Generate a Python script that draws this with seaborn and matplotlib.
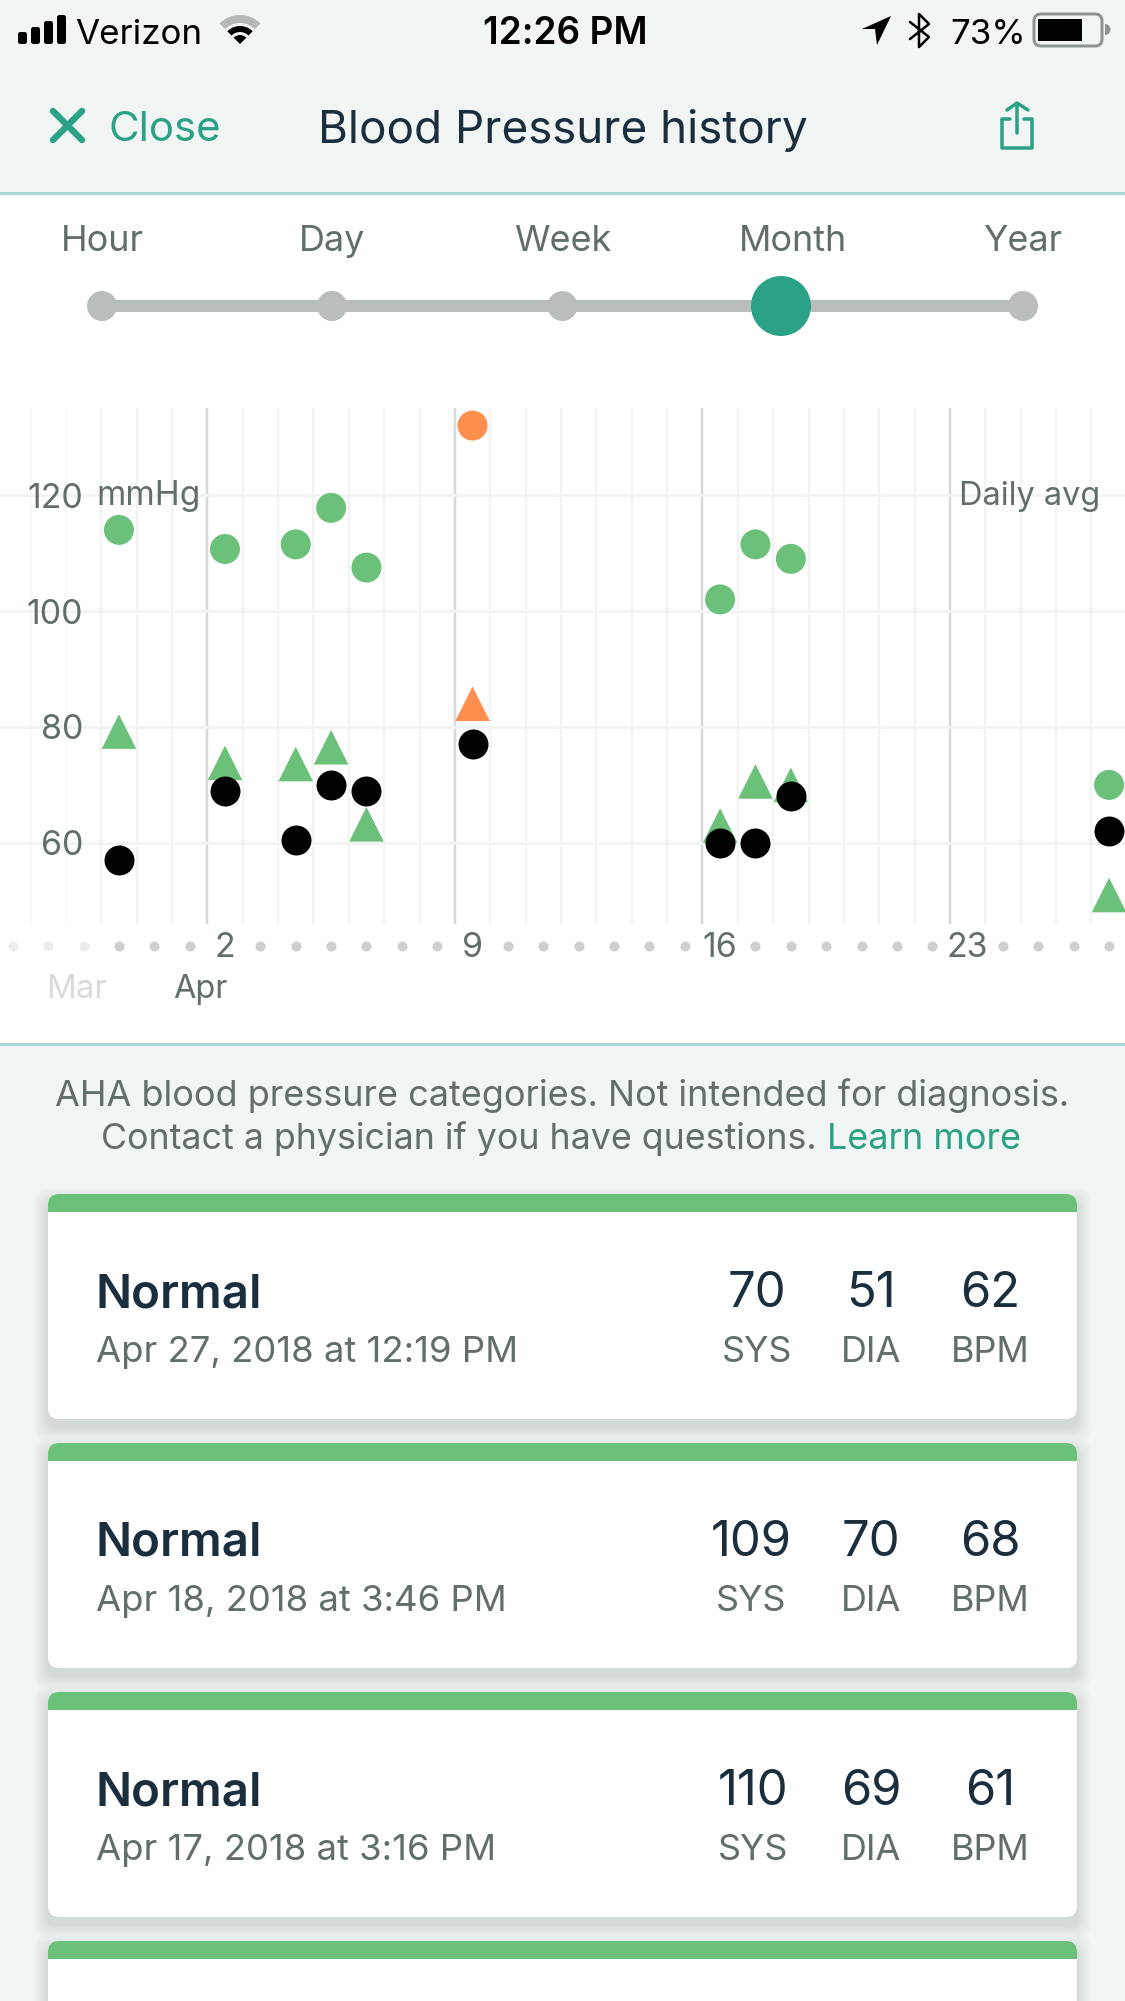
import numpy as np
import pandas as pd
import seaborn as sns
import matplotlib.pyplot as plt
from matplotlib.patches import FancyBboxPatch, Rectangle, Circle, Wedge, Polygon

# readings, one per day that has a measurement (day numbers run through April)
days = [-1, 2, 4, 5, 6, 9, 16, 17, 18, 27]
systolic = [114, 110.7, 111.5, 117.8, 107.5, 132, 102, 111.5, 109, 70]
diastolic = [79.2, 73.8, 73.6, 76.5, 63.2, 84, 63, 70.6, 70, 51]
pulse = [57, 69, 60.5, 70, 69, 77, 60, 60, 68, 62]
category = ['normal', 'normal', 'normal', 'normal', 'normal', 'elevated', 'normal', 'normal', 'normal', 'normal']

y_ticks = [60, 80, 100, 120]
x_ticks = [2, 9, 16, 23]
ranges = ['Hour', 'Day', 'Week', 'Month', 'Year']

card_status = ['Normal', 'Normal', 'Normal']
card_dates = ['Apr 27, 2018 at 12:19 PM', 'Apr 18, 2018 at 3:46 PM', 'Apr 17, 2018 at 3:16 PM']
card_sys = ['70', '109', '110']
card_dia = ['51', '70', '69']
card_bpm = ['62', '68', '61']

BG = '#F1F5F4'
TEAL = '#2BA285'
GREEN = '#6BC17A'
ORANGE = '#FF8F4F'
DARK = '#1A2E3E'
GREY = '#626E6C'
RULE = '#A6D8D6'

sns.set_style('white')
plt.rcParams['font.family'] = ['Inter', 'DejaVu Sans']

W, H = 1125, 2001
fig = plt.figure(figsize=(W / 100, H / 100), dpi=100, facecolor=BG)

# pixel canvas for the app screen around the chart
ui = fig.add_axes([0, 0, 1, 1], zorder=0)
ui.set_xlim(0, W)
ui.set_ylim(H, 0)
ui.axis('off')


def px(v):
    return v * 0.72


def label(x, y, s, size, color=GREY, ha='left', **kw):
    return ui.text(x, y, s, fontsize=px(size), color=color, ha=ha, va='baseline', **kw)


def stroke(xs, ys, color, width, **kw):
    ui.plot(xs, ys, color=color, lw=px(width), solid_capstyle='round', solid_joinstyle='round', **kw)


# white band behind the chart
ui.add_patch(Rectangle((0, 194), W, 851, fc='white', ec='none'))
ui.add_patch(Rectangle((0, 192), W, 3, fc=RULE, ec='none'))
ui.add_patch(Rectangle((0, 1043), W, 3, fc=RULE, ec='none'))

# status bar
for x0, top in zip([18, 31, 44, 57], [32, 27, 21, 15]):
    ui.add_patch(FancyBboxPatch((x0, top), 9, 44 - top, boxstyle='round,pad=0,rounding_size=2.5', fc='black', ec='none'))
label(75, 44, 'Verizon', 35, 'black')
ui.add_patch(Wedge((240, 44), 29, 225, 315, width=8, fc='#B4B8B7', ec='none'))
ui.add_patch(Wedge((240, 44), 18, 225, 315, width=6, fc='black', ec='none'))
ui.add_patch(Wedge((240, 44), 9, 225, 315, fc='black', ec='none'))
label(565, 44, '12:26 PM', 37, 'black', ha='center', fontweight='semibold')
ui.add_patch(Polygon([(862, 29), (891, 16), (877, 45), (875, 29)], fc='black', ec='none'))
stroke([910, 929, 919, 919, 929, 910], [22, 37, 47, 14, 24, 39], 'black', 2.5)
label(950, 44, '73%', 35, 'black')
ui.add_patch(FancyBboxPatch((1034, 14), 68, 32, boxstyle='round,pad=0,rounding_size=7', fc='none', ec='#8C9494', lw=px(3)))
ui.add_patch(Rectangle((1038, 19), 44, 22, fc='black', ec='none'))
ui.add_patch(Wedge((1105, 29.5), 5.5, 270, 90, fc='#8C9494', ec='none'))

# navigation bar
stroke([53, 82], [111, 140], TEAL, 6.5)
stroke([53, 82], [140, 111], TEAL, 6.5)
label(108.5, 141, 'Close', 42, TEAL)
label(318, 142.5, 'Blood Pressure history', 45.8, DARK)
stroke([1010, 1002, 1002, 1032, 1032, 1024], [119, 119, 148, 148, 119, 119], TEAL, 3.5)
stroke([1017, 1017], [104, 133], TEAL, 3.5)
stroke([1007, 1017, 1028], [110, 103, 110], TEAL, 3.5)

# range slider
range_x = [102, 332, 562.5, 792.5, 1023]
for x0, name in zip(range_x, ranges):
    label(x0, 251, name, 36, ha='center')
ui.plot([102, 1023], [306, 306], color='#B9BDBB', lw=px(12), solid_capstyle='butt')
for x0 in [102, 332, 562.5, 1023]:
    ui.add_patch(Circle((x0, 306), 15, fc='#B9BDBB', ec='none'))
ui.add_patch(Circle((781, 306), 30, fc=TEAL, ec='none', zorder=3))

# AHA note
label(562, 1106, 'AHA blood pressure categories. Not intended for diagnosis.', 36, ha='center')
label(817, 1149, 'Contact a physician if you have questions.', 35.75, ha='right')
label(1021, 1149, 'Learn more', 36, TEAL, ha='right')

# result cards, the fourth one runs off the screen
sys_x = [757, 751, 753]
for i in range(4):
    top = 1194 + 249 * i
    for grow in range(1, 15):
        ui.add_patch(FancyBboxPatch((48 - grow, top + 8 - grow), 1029 + 2 * grow, 225 + 2 * grow,
                                    boxstyle='round,pad=0,rounding_size=12', fc='black', ec='none', alpha=0.009))
    card = FancyBboxPatch((48, top), 1029, 225, boxstyle='round,pad=0,rounding_size=11', fc='white', ec='none')
    ui.add_patch(card)
    head = Rectangle((48, top), 1029, 18, fc=GREEN, ec='none')
    ui.add_patch(head)
    head.set_clip_path(card)
    if i > 2:
        continue
    label(95.5, top + 113, card_status[i], 47.5, DARK, fontweight='semibold')
    label(95.5, top + 168, card_dates[i], 36.5)
    for x0, value, name in zip([sys_x[i], 871, 990], [card_sys[i], card_dia[i], card_bpm[i]], ['SYS', 'DIA', 'BPM']):
        label(x0, top + 113, value, 49, DARK, ha='center')
        label(x0, top + 168, name, 36, ha='center')

# the chart itself
chart_top, chart_bottom = 407.6, 924
ax = fig.add_axes([0, (H - chart_bottom) / H, 1, (chart_bottom - chart_top) / H], zorder=1)
ax.patch.set_alpha(0)
ax.set_xlim(-4.363, 27.45)
ax.set_ylim(46, 135.1)
sns.despine(ax=ax, left=True, bottom=True)

df = pd.DataFrame({'day': days, 'sys': systolic, 'dia': diastolic, 'pulse': pulse, 'category': category})
palette = {'normal': GREEN, 'elevated': ORANGE}

# day grid sits between the day positions, weeks are darker
grid_days = np.arange(-4, 28) - 0.5
week_days = [x - 0.5 for x in x_ticks]
ax.vlines([d for d in grid_days if d < -2], 0, 1, transform=ax.get_xaxis_transform(), color='#F8F9F9', lw=px(2.5), zorder=0)
ax.vlines([d for d in grid_days if d > -2 and d not in week_days], 0, 1, transform=ax.get_xaxis_transform(), color='#F2F4F4', lw=px(2.5), zorder=0)
ax.vlines(week_days, 0, 1, transform=ax.get_xaxis_transform(), color='#D6D9D9', lw=px(2.5), zorder=0)
ax.yaxis.grid(True, color='#F2F4F4', lw=px(3), zorder=0)
ax.set_axisbelow(True)

sns.scatterplot(data=df, x='day', y='dia', hue='category', palette=palette, marker='^', s=620,
                linewidth=0, legend=False, ax=ax, zorder=2)
sns.scatterplot(data=df, x='day', y='sys', hue='category', palette=palette, marker='o', s=466,
                linewidth=0, legend=False, ax=ax, zorder=3)
sns.scatterplot(data=df, x='day', y='pulse', color='black', marker='o', s=466,
                linewidth=0, legend=False, ax=ax, zorder=4)

ax.set_xlabel('')
ax.set_ylabel('')
ax.set_yticks(y_ticks)
ax.set_yticklabels([str(v) for v in y_ticks])
ax.set_xticks(x_ticks)
ax.set_xticklabels([str(v) for v in x_ticks])
ax.tick_params(axis='y', length=0, pad=px(-83), labelsize=px(34), labelcolor=GREY)
ax.tick_params(axis='x', length=0, pad=px(8), labelsize=px(34), labelcolor=GREY)

# dots along the date axis
dot_days = [d for d in range(-4, 28) if d not in x_ticks]
ax.scatter([d for d in dot_days if d < -1], [-0.0426] * 3, transform=ax.get_xaxis_transform(),
           s=52, color='#ECEEEE', linewidth=0, clip_on=False)
ax.scatter([d for d in dot_days if d >= -1], [-0.0426] * (len(dot_days) - 3), transform=ax.get_xaxis_transform(),
           s=52, color='#CDD0CF', linewidth=0, clip_on=False)

# these two sit on top of the grid
fig.text(96 / W, 1 - 505 / H, 'mmHg', fontsize=px(33.5), color=GREY, va='baseline', zorder=5)
fig.text(959 / W, 1 - 505 / H, 'Daily avg', fontsize=px(32.5), color=GREY, va='baseline', zorder=5)
label(46, 998, 'Mar', 33, '#D8DBDA')
label(173, 998, 'Apr', 32.5)

fig.savefig('out.png', dpi=100, facecolor=BG)
